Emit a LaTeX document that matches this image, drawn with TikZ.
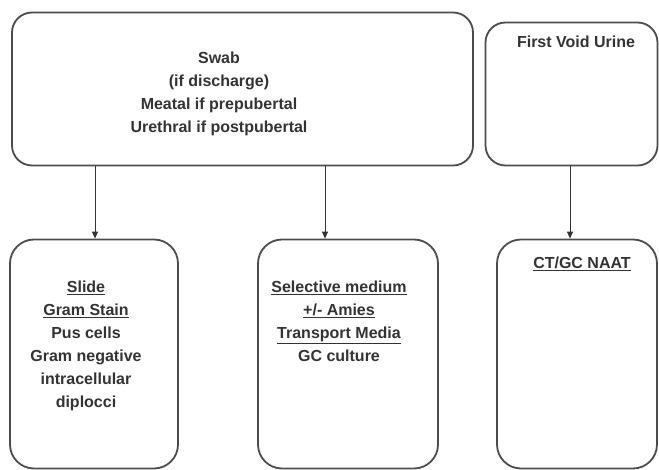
\documentclass[tikz,border=0pt]{standalone}
\usepackage{fontspec}
\setmainfont{Liberation Sans}
\usetikzlibrary{arrows.meta}
\begin{document}
\begin{tikzpicture}[x=1pt,y=-1pt,
  box/.style={draw=black!70,line width=1.8pt,rounded corners=20pt,inner sep=0pt},
  txt/.style={anchor=north,align=center,inner sep=0pt,font=\fontsize{16}{23}\selectfont\bfseries,text=black!80},
  arr/.style={draw=black!80,line width=0.9pt,-{Triangle[length=7pt,width=6pt]}}]
\useasboundingbox (0,0) rectangle (659,470);
% boxes
\node[box,minimum width=461pt,minimum height=153pt] (swab) at (242.5,89) {};
\node[box,minimum width=172pt,minimum height=143pt] (fvu) at (571.5,94) {};
\node[box,minimum width=168pt,minimum height=229pt,rounded corners=24pt] (slide) at (94,354) {};
\node[box,minimum width=180pt,minimum height=229pt,rounded corners=24pt] (sel) at (348,354) {};
\node[box,minimum width=160pt,minimum height=229pt,rounded corners=24pt] (naat) at (577,354) {};
% texts
\node[txt] (swabtxt) at (219,52) {Swab\\(if discharge)\\Meatal if prepubertal\\Urethral if postpubertal};
\node[txt] (fvutxt) at (576,36) {First Void Urine};
\node[txt] (slidetxt) at (86,281) {\underline{Slide}\\\underline{Gram Stain}\\Pus cells\\Gram negative\\intracellular\\diplocci};
\node[txt] (seltxt) at (339,281) {\underline{Selective medium}\\\underline{+/- Amies}\\\underline{Transport Media}\\GC culture};
\node[txt] (naattxt) at (582,257) {\underline{CT/GC NAAT}};
% arrows
\draw[arr] (swab.south -| 95,0) -- (slide.north -| 95,0);
\draw[arr] (swab.south -| 325,0) -- (sel.north -| 325,0);
\draw[arr] (fvu.south -| 570,0) -- (naat.north -| 570,0);
\end{tikzpicture}
\end{document}
